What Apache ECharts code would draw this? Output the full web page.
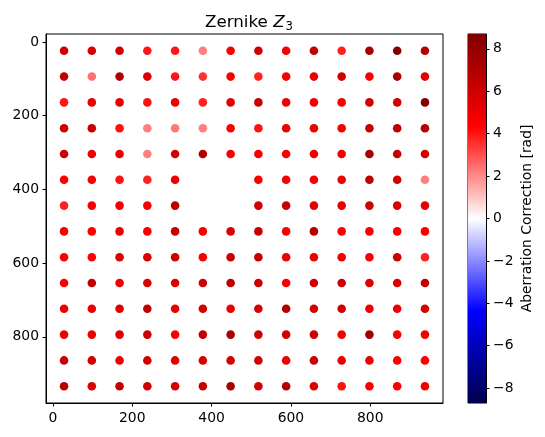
<!DOCTYPE html>
<html>
<head>
<meta charset="utf-8">
<script src="https://cdn.jsdelivr.net/npm/echarts@6/dist/echarts.min.js"></script>
<style>
  html, body { margin: 0; padding: 0; background: #fff; }
  #chart { width: 545px; height: 437px; }
</style>
</head>
<body>
<div id="chart"></div>
<script>
// grid positions of the sample points
const xPos = [28, 98, 168, 238, 308, 378, 448, 518, 588, 658, 728, 798, 868, 938]
const yPos = [24, 94, 164, 234, 304, 374, 444, 514, 584, 654, 724, 794, 864, 934]

// aberration correction [rad], one row per yPos, null = no point
const values = [
  [6.0, 5.8, 6.0, 4.0, 4.0, 2.2, 4.6, 6.0, 4.6, 6.5, 3.8, 7.5, 8.6, 7.0],
  [6.5, 2.4, 7.0, 5.5, 4.0, 3.5, 4.6, 3.8, 4.6, 5.0, 6.0, 4.6, 7.3, 5.2],
  [4.0, 5.0, 5.2, 4.1, 5.0, 3.8, 5.2, 6.3, 4.8, 4.8, 4.6, 6.0, 5.8, 8.5],
  [6.0, 6.3, 4.1, 2.2, 2.3, 2.2, 4.5, 4.1, 5.0, 5.0, 4.6, 6.3, 6.5, 6.8],
  [6.0, 5.0, 5.0, 2.2, 5.8, 7.0, 4.6, 4.6, 4.6, 5.0, 4.8, 7.3, 6.3, 5.8],
  [4.5, 4.6, 4.1, 3.8, 5.0, null, null, 4.6, 4.6, 4.6, 5.0, 6.5, 5.8, 2.2],
  [3.8, 4.5, 4.8, 4.5, 6.5, null, null, 6.0, 6.3, 5.2, 5.0, 6.0, 5.5, 5.2],
  [4.5, 4.4, 5.0, 4.6, 6.3, 4.6, 5.5, 6.3, 4.6, 7.0, 4.5, 4.6, 4.6, 4.5],
  [4.5, 4.4, 5.5, 5.5, 6.0, 4.6, 6.3, 6.3, 5.0, 5.0, 4.6, 4.6, 6.0, 3.8],
  [4.5, 6.3, 5.0, 5.5, 5.5, 6.0, 6.5, 6.0, 4.6, 6.0, 6.0, 5.5, 5.5, 6.5],
  [5.0, 5.0, 5.5, 6.5, 5.2, 5.8, 5.0, 5.8, 7.0, 6.0, 6.0, 5.0, 5.0, 5.8],
  [5.0, 5.0, 5.5, 6.0, 4.6, 6.3, 7.3, 6.0, 6.0, 6.0, 4.6, 7.6, 4.5, 4.8],
  [6.3, 6.0, 5.0, 6.0, 5.5, 5.8, 5.8, 6.0, 5.0, 6.3, 5.2, 5.0, 4.5, 4.4],
  [6.8, 5.5, 6.5, 6.0, 5.8, 6.3, 7.3, 6.0, 7.0, 5.5, 4.1, 4.5, 4.5, 4.8]
]

const axisTicks = [0, 200, 400, 600, 800]
const cbarTicks = [-8, -6, -4, -2, 0, 2, 4, 6, 8]
const vLim = 8.7

// matplotlib 'seismic'
const seismic = ['#00004d', '#0000ff', '#ffffff', '#ff0000', '#800000']

const points = []
values.forEach((row, i) => {
  row.forEach((v, j) => {
    if (v !== null) points.push([xPos[j], yPos[i], v])
  })
})

const font = 'DejaVu Sans'
const txt = { color: '#000', fontFamily: font, fontSize: 13.9 }
const blackLine = { show: true, onZero: false, lineStyle: { color: '#000', width: 1 } }

const chart = echarts.init(document.getElementById('chart'))
chart.setOption({
  animation: false,
  backgroundColor: '#fff',
  title: {
    text: '{n|Zernike }{z|Z}{s|3}',
    left: 244,
    textAlign: 'center',
    top: 7,
    textStyle: {
      fontWeight: 'normal',
      rich: {
        n: { fontFamily: font, fontSize: 16.7, fontWeight: 'normal', color: '#000' },
        z: { fontFamily: font, fontSize: 16.7, fontWeight: 'normal', color: '#000', fontStyle: 'italic' },
        s: { fontFamily: font, fontSize: 11.7, fontWeight: 'normal', color: '#000', padding: [9, 0, 0, 1] }
      }
    }
  },
  grid: [
    { left: 46, top: 34, width: 397, height: 369, show: true, borderColor: '#000', borderWidth: 1 },
    { left: 468, top: 34, width: 18, height: 369, show: true, borderColor: '#000', borderWidth: 1 }
  ],
  xAxis: [
    {
      type: 'value', gridIndex: 0, min: -17.5, max: 983.5,
      splitLine: { show: false },
      axisLine: blackLine,
      axisTick: { length: 3.5, lineStyle: { color: '#000' }, customValues: axisTicks },
      axisLabel: Object.assign({ margin: 8, customValues: axisTicks }, txt)
    },
    { type: 'value', gridIndex: 1, min: 0, max: 1, show: false }
  ],
  yAxis: [
    {
      type: 'value', gridIndex: 0, min: -21.5, max: 979.5, inverse: true,
      splitLine: { show: false },
      axisLine: blackLine,
      axisTick: { show: true, length: 3.5, lineStyle: { color: '#000' }, customValues: axisTicks },
      axisLabel: Object.assign({ margin: 7, customValues: axisTicks }, txt)
    },
    {
      type: 'value', gridIndex: 1, min: -vLim, max: vLim, position: 'right',
      splitLine: { show: false },
      axisLine: blackLine,
      axisTick: { show: true, length: 3.5, lineStyle: { color: '#000' }, customValues: cbarTicks },
      axisLabel: Object.assign({
        margin: 7, customValues: cbarTicks,
        formatter: v => String(v).replace('-', '\u2212')
      }, txt),
      name: 'Aberration Correction [rad]',
      nameLocation: 'middle',
      nameRotate: 90,
      nameGap: 34,
      nameTextStyle: txt
    }
  ],
  visualMap: {
    type: 'continuous', show: false, seriesIndex: 0, dimension: 2,
    min: -vLim, max: vLim,
    inRange: { color: seismic }
  },
  series: [
    {
      type: 'scatter', xAxisIndex: 0, yAxisIndex: 0,
      symbolSize: 8.6,
      itemStyle: { opacity: 1 },
      data: points
    },
    {
      type: 'custom', xAxisIndex: 1, yAxisIndex: 1,
      data: [[0, 1, -vLim, vLim]],
      renderItem: (params, api) => {
        const p0 = api.coord([api.value(0), api.value(3)])
        const p1 = api.coord([api.value(1), api.value(2)])
        return {
          type: 'rect',
          shape: { x: p0[0], y: p0[1], width: p1[0] - p0[0], height: p1[1] - p0[1] },
          style: {
            fill: new echarts.graphic.LinearGradient(0, 0, 0, 1,
              seismic.slice().reverse().map((c, k) => ({ offset: k / 4, color: c })))
          }
        }
      }
    }
  ]
})
</script>
</body>
</html>
